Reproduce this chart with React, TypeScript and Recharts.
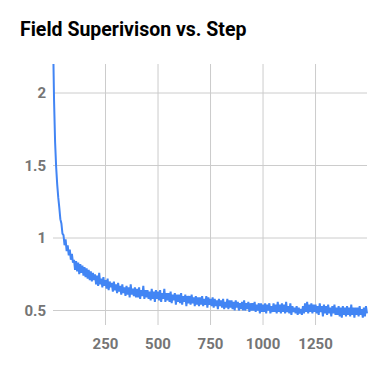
import { LineChart, Line, XAxis, YAxis, CartesianGrid } from 'recharts';

const STEP_INTERVAL = 5;
const lossValues = [
  2.40, 1.95, 1.66, 1.49, 1.37, 1.28, 1.21, 1.13, 1.10, 1.03,
  1.02, 0.95, 0.99, 0.91, 0.95, 0.88, 0.92, 0.85, 0.89, 0.83,
  0.85, 0.78, 0.84, 0.77, 0.83, 0.75, 0.82, 0.76, 0.81, 0.74,
  0.80, 0.73, 0.79, 0.72, 0.78, 0.71, 0.77, 0.70, 0.76, 0.71,
  0.75, 0.68, 0.74, 0.67, 0.76, 0.68, 0.72, 0.66, 0.73, 0.67,
  0.71, 0.65, 0.72, 0.64, 0.70, 0.66, 0.69, 0.63, 0.70, 0.64,
  0.68, 0.62, 0.69, 0.63, 0.67, 0.61, 0.68, 0.62, 0.66, 0.60,
  0.67, 0.61, 0.66, 0.59, 0.68, 0.61, 0.65, 0.60, 0.66, 0.59,
  0.65, 0.59, 0.66, 0.58, 0.64, 0.60, 0.67, 0.58, 0.64, 0.59,
  0.64, 0.58, 0.63, 0.57, 0.65, 0.58, 0.63, 0.56, 0.64, 0.58,
  0.63, 0.57, 0.64, 0.56, 0.62, 0.58, 0.65, 0.56, 0.62, 0.57,
  0.62, 0.56, 0.63, 0.55, 0.61, 0.57, 0.62, 0.54, 0.61, 0.56,
  0.61, 0.55, 0.62, 0.54, 0.60, 0.56, 0.61, 0.53, 0.60, 0.55,
  0.60, 0.54, 0.61, 0.55, 0.59, 0.53, 0.60, 0.54, 0.59, 0.53,
  0.59, 0.54, 0.60, 0.53, 0.58, 0.54, 0.60, 0.52, 0.59, 0.54,
  0.58, 0.53, 0.59, 0.52, 0.58, 0.53, 0.57, 0.51, 0.58, 0.53,
  0.57, 0.52, 0.58, 0.51, 0.56, 0.52, 0.58, 0.51, 0.57, 0.52,
  0.57, 0.51, 0.56, 0.50, 0.57, 0.52, 0.56, 0.50, 0.55, 0.51,
  0.56, 0.50, 0.57, 0.50, 0.55, 0.51, 0.56, 0.49, 0.55, 0.50,
  0.55, 0.50, 0.56, 0.49, 0.54, 0.50, 0.55, 0.48, 0.55, 0.49,
  0.54, 0.49, 0.55, 0.48, 0.54, 0.50, 0.55, 0.48, 0.53, 0.49,
  0.55, 0.49, 0.54, 0.48, 0.56, 0.49, 0.54, 0.48, 0.55, 0.49,
  0.54, 0.48, 0.56, 0.49, 0.53, 0.48, 0.55, 0.47, 0.53, 0.49,
  0.52, 0.48, 0.53, 0.47, 0.52, 0.48, 0.51, 0.47, 0.53, 0.48,
  0.55, 0.49, 0.56, 0.48, 0.54, 0.49, 0.55, 0.48, 0.54, 0.49,
  0.54, 0.48, 0.53, 0.47, 0.55, 0.49, 0.53, 0.46, 0.54, 0.48,
  0.53, 0.47, 0.54, 0.48, 0.52, 0.46, 0.53, 0.48, 0.54, 0.47,
  0.52, 0.47, 0.53, 0.46, 0.52, 0.45, 0.53, 0.47, 0.52, 0.46,
  0.53, 0.47, 0.52, 0.46, 0.54, 0.47, 0.52, 0.45, 0.52, 0.47,
  0.52, 0.46, 0.53, 0.47, 0.51, 0.45, 0.52, 0.46, 0.53, 0.48,
];

const xTicks = [250, 500, 750, 1000, 1250];
const yTicks = [0.5, 1, 1.5, 2];

const data = lossValues.map((value, i) => ({ step: i * STEP_INTERVAL, value }));

const tickStyle = { fill: '#757575', fontSize: 15, fontWeight: 'bold' as const, fontFamily: 'Roboto' };

export default function App() {
  return (
    <div style={{ position: 'relative', width: 385, height: 371, margin: -8, background: '#fff' }}>
      <div
        style={{
          position: 'absolute',
          left: 20,
          top: 18,
          fontFamily: 'Roboto',
          fontWeight: 'bold',
          fontSize: 19.5,
          color: '#000',
        }}
      >
        Field Superivison vs. Step
      </div>
      <LineChart width={385} height={371} data={data} margin={{ top: 64, right: 18, bottom: 16, left: 0 }}>
        {/* grid only at the tick values, no frame around the plot */}
        <CartesianGrid stroke="#cccccc" strokeWidth={1} syncWithTicks />
        <XAxis
          dataKey="step"
          type="number"
          domain={[0, 1495]}
          ticks={xTicks}
          axisLine={false}
          tickLine={false}
          tickSize={0}
          tickMargin={13}
          height={30}
          tick={tickStyle}
        />
        <YAxis
          type="number"
          domain={[0.4, 2.2]}
          allowDataOverflow
          ticks={yTicks}
          axisLine={false}
          tickLine={false}
          tickSize={0}
          tickMargin={7}
          width={53}
          tick={tickStyle}
        />
        <Line
          type="linear"
          dataKey="value"
          stroke="#4285f4"
          strokeWidth={2}
          dot={false}
          isAnimationActive={false}
        />
      </LineChart>
    </div>
  );
}
